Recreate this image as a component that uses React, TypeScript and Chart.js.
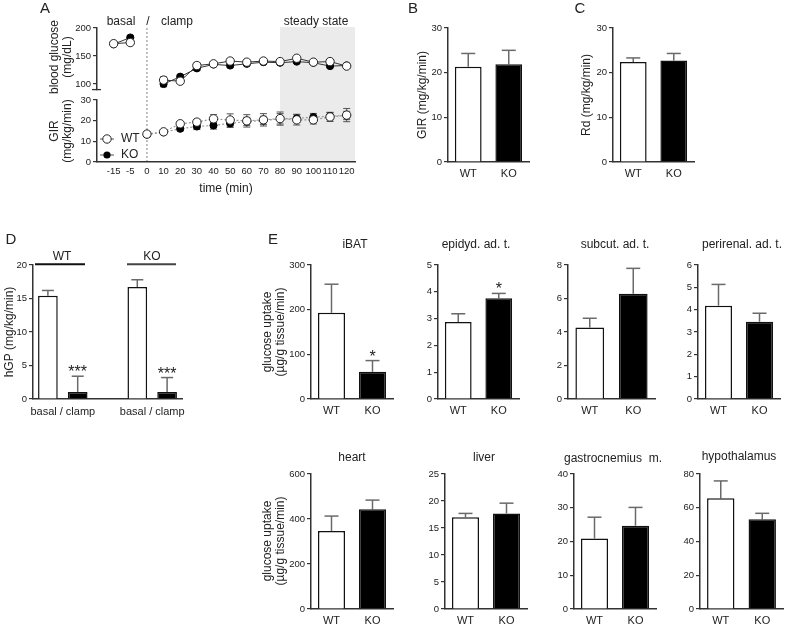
import React, { useEffect, useRef } from 'react';
import { Chart, registerables } from 'chart.js';
Chart.register(...registerables);

const FONT = '"Liberation Sans", Arial, Helvetica, sans-serif';
const INK = '#222';
const AXIS = '#333';
const ERR = '#6a6a6a';

// ---------- Panel A data ----------
const timeLabels = ['-15', '-5', '0', '10', '20', '30', '40', '50', '60', '70', '80', '90', '100', '110', '120'];
const glucoseWT = [172, 174, null, 107, 105, 133, 136, 141, 139, 141, 140, 146, 139, 140, 132];
const glucoseWTErr = [3, 4, null, 6, 3, 5, 4, 4, 4, 3, 3, 3, 3, 3, 3];
const glucoseKO = [171, 183, null, 100, 113, 128, 135, 133, 136, 139, 138, 140, 138, 132, 133];
const glucoseKOErr = [2, 3, null, 5, 3, 4, 3, 3, 3, 3, 3, 3, 3, 3, 3];
const girWT = [null, null, 13.5, 14.6, 18.5, 19.3, 20.9, 20.3, 19.9, 20.4, 21.0, 20.4, 20.4, 21.8, 22.7];
const girWTErr = [null, null, 1.2, 0.8, 1.0, 1.3, 2.0, 3.0, 3.0, 3.0, 3.2, 2.5, 2.0, 2.2, 3.2];
const girKO = [null, null, 13.3, 14.4, 16.1, 17.2, 17.7, 18.7, 19.6, 20.1, 20.9, 21.1, 21.7, 22.2, 22.5];
const girKOErr = [null, null, 1.0, 0.8, 1.0, 1.5, 1.8, 2.0, 2.0, 2.0, 2.5, 2.0, 1.8, 1.8, 2.0];
const steadyStateStart = '80';
const clampStart = '0';

// ---------- Panels B-E data ----------
const groups = ['WT', 'KO'];
const groupColors = ['#ffffff', '#000000'];
const girMean = [21.3, 21.9];
const girSem = [3.0, 3.1];
const rdMean = [22.4, 22.7];
const rdSem = [0.9, 1.6];
const hgpLabels = ['basal', 'clamp', '', 'basal', 'clamp'];
const hgpMean = [15.4, 1.05, null, 16.7, 1.05];
const hgpSem = [0.8, 2.35, null, 1.1, 2.15];
const hgpStars = [null, '***', null, null, '***'];
const iBATMean = [193, 61];
const iBATSem = [64, 25];
const epidydMean = [2.87, 3.76];
const epidydSem = [0.31, 0.18];
const subcutMean = [4.27, 6.28];
const subcutSem = [0.55, 1.52];
const perirenalMean = [4.18, 3.46];
const perirenalSem = [0.95, 0.38];
const heartMean = [347, 443];
const heartSem = [66, 41];
const liverMean = [17.0, 17.7];
const liverSem = [0.7, 1.9];
const gastrocMean = [20.9, 24.7];
const gastrocSem = [6.3, 5.4];
const hypothalMean = [65.6, 53.2];
const hypothalSem = [10.3, 3.5];

type Rect = { x: number; y: number; w: number; h: number };
type Num = number | null;

function txt(
  ctx: CanvasRenderingContext2D,
  s: string,
  x: number,
  y: number,
  size: number,
  o: { align?: CanvasTextAlign; baseline?: CanvasTextBaseline; rotate?: boolean; color?: string } = {}
) {
  ctx.save();
  ctx.font = `${size}px ${FONT}`;
  ctx.fillStyle = o.color ?? INK;
  ctx.textAlign = o.align ?? 'center';
  ctx.textBaseline = o.baseline ?? 'middle';
  ctx.translate(x, y);
  if (o.rotate) ctx.rotate(-Math.PI / 2);
  ctx.fillText(s, 0, 0);
  ctx.restore();
}

function line(ctx: CanvasRenderingContext2D, x1: number, y1: number, x2: number, y2: number, color: string, w: number, dash: number[] = []) {
  ctx.save();
  ctx.strokeStyle = color;
  ctx.lineWidth = w;
  ctx.setLineDash(dash);
  ctx.beginPath();
  ctx.moveTo(x1, y1);
  ctx.lineTo(x2, y2);
  ctx.stroke();
  ctx.restore();
}

function ChartBox({ rect, build }: { rect: Rect; build: () => any }) {
  const ref = useRef<HTMLCanvasElement>(null);
  useEffect(() => {
    const ch = new Chart(ref.current as HTMLCanvasElement, build());
    return () => ch.destroy();
  }, []);
  return (
    <canvas
      ref={ref}
      width={rect.w}
      height={rect.h}
      style={{ position: 'absolute', left: rect.x, top: rect.y, width: rect.w, height: rect.h }}
    />
  );
}

const yTickFont = { size: 9.5, family: FONT };

// ---------- Panel A ----------
const A_RECT: Rect = { x: 0, y: 0, w: 370, h: 200 };
const A_AXIS_X = 97;
const A_RIGHT = 355;

function timeTick(v: any) {
  return Number.isInteger(v) && v >= 0 && v < timeLabels.length ? timeLabels[v] : '';
}

function drawPointErrors(chart: any, errSets: Num[][], cap: number) {
  const ctx = chart.ctx;
  const ys = chart.scales.y;
  errSets.forEach((errs, di) => {
    const meta = chart.getDatasetMeta(di);
    const ds = chart.data.datasets[di];
    meta.data.forEach((pt: any, i: number) => {
      const v = ds.data[i].y;
      const e = errs[i];
      if (v == null || e == null) return;
      const y1 = ys.getPixelForValue(v + e);
      const y2 = ys.getPixelForValue(v - e);
      line(ctx, pt.x, y1, pt.x, y2, '#555', 1);
      line(ctx, pt.x - cap / 2, y1, pt.x + cap / 2, y1, '#555', 1);
      line(ctx, pt.x - cap / 2, y2, pt.x + cap / 2, y2, '#555', 1);
    });
  });
}

function buildATop() {
  return {
    type: 'line',
    data: {
      datasets: [
        {
          label: 'WT',
          data: glucoseWT.map((y, i) => ({ x: i, y })),
          borderColor: '#333',
          borderWidth: 1,
          pointRadius: 4.2,
          pointBackgroundColor: '#fff',
          pointBorderColor: '#222',
          pointBorderWidth: 1,
          spanGaps: false,
        },
        {
          label: 'KO',
          data: glucoseKO.map((y, i) => ({ x: i, y })),
          borderColor: '#333',
          borderWidth: 1,
          pointRadius: 3.6,
          pointBackgroundColor: '#000',
          pointBorderColor: '#000',
          pointBorderWidth: 1,
          spanGaps: false,
        },
      ],
    },
    options: {
      animation: false,
      responsive: false,
      events: [],
      layout: { padding: { left: 0, right: A_RECT.w - A_RIGHT, top: 28, bottom: A_RECT.h - 89.6 } },
      plugins: { legend: { display: false }, tooltip: { enabled: false } },
      scales: {
        x: { type: 'linear', min: -1, max: 14.5, display: false },
        y: {
          min: 90,
          max: 200,
          afterBuildTicks: (s: any) => {
            s.ticks = [100, 150, 200].map((value) => ({ value }));
          },
          ticks: { font: yTickFont, color: INK, padding: 2 },
          grid: { drawOnChartArea: false, drawTicks: true, tickLength: 4, color: AXIS, lineWidth: 1.2 },
          border: { display: true, color: AXIS, width: 1.5 },
          afterFit: (s: any) => {
            s.width = A_AXIS_X;
          },
        },
      },
    },
    plugins: [
      {
        id: 'aTopDeco',
        beforeDatasetsDraw(chart: any) {
          drawPointErrors(chart, [glucoseWTErr, glucoseKOErr], 7);
        },
        afterDraw(chart: any) {
          const ctx = chart.ctx;
          const ca = chart.chartArea;
          txt(ctx, 'A', 45, 9, 15);
          txt(ctx, 'basal', 121, 22, 12);
          txt(ctx, '/', 148, 22, 12);
          txt(ctx, 'clamp', 177, 22, 12);
          txt(ctx, 'steady state', 316, 22, 12);
          txt(ctx, 'blood glucose', 55, 57, 12, { rotate: true });
          txt(ctx, '(mg/dL)', 68, 57, 12, { rotate: true });
          line(ctx, ca.left - 5, ca.bottom, ca.left + 4, ca.bottom, AXIS, 1.3);
        },
      },
    ],
  };
}

function buildABottom() {
  return {
    type: 'line',
    data: {
      datasets: [
        {
          label: 'WT',
          data: girWT.map((y, i) => ({ x: i, y })),
          borderColor: '#9a9a9a',
          borderWidth: 1.2,
          borderDash: [2, 2],
          pointRadius: 4.2,
          pointBackgroundColor: '#fff',
          pointBorderColor: '#222',
          pointBorderWidth: 1,
          spanGaps: false,
        },
        {
          label: 'KO',
          data: girKO.map((y, i) => ({ x: i, y })),
          borderColor: '#9a9a9a',
          borderWidth: 1.2,
          borderDash: [2, 2],
          pointRadius: 3.6,
          pointBackgroundColor: '#000',
          pointBorderColor: '#000',
          pointBorderWidth: 1,
          spanGaps: false,
        },
      ],
    },
    options: {
      animation: false,
      responsive: false,
      events: [],
      layout: { padding: { left: 0, right: A_RECT.w - A_RIGHT, top: 100, bottom: 0 } },
      plugins: { legend: { display: false }, tooltip: { enabled: false } },
      scales: {
        x: {
          type: 'linear',
          min: -1,
          max: 14.5,
          afterBuildTicks: (s: any) => {
            s.ticks = timeLabels.map((_, i) => ({ value: i }));
          },
          ticks: { autoSkip: false, maxRotation: 0, minRotation: 0, font: yTickFont, color: INK, padding: 4, callback: timeTick },
          grid: { display: false, drawTicks: false },
          border: { display: true, color: AXIS, width: 1.5 },
          afterFit: (s: any) => {
            s.height = A_RECT.h - 162;
          },
        },
        y: {
          min: 0,
          max: 30,
          ticks: { stepSize: 10, font: yTickFont, color: INK, padding: 2 },
          grid: { drawOnChartArea: false, drawTicks: true, tickLength: 4, color: AXIS, lineWidth: 1.2 },
          border: { display: true, color: AXIS, width: 1.5 },
          afterFit: (s: any) => {
            s.width = A_AXIS_X;
          },
        },
      },
    },
    plugins: [
      {
        id: 'aBotDeco',
        beforeDraw(chart: any) {
          const ctx = chart.ctx;
          const ca = chart.chartArea;
          const xs = chart.scales.x;
          const gx = xs.getPixelForValue(timeLabels.indexOf(steadyStateStart));
          ctx.save();
          ctx.fillStyle = '#ebebeb';
          ctx.fillRect(gx, 27, ca.right - gx, ca.bottom - 27);
          ctx.restore();
          const zx = xs.getPixelForValue(timeLabels.indexOf(clampStart));
          line(ctx, zx, 28, zx, ca.bottom, '#9a9a9a', 1.2, [2, 2]);
        },
        beforeDatasetsDraw(chart: any) {
          drawPointErrors(chart, [girWTErr, girKOErr], 7);
        },
        afterDraw(chart: any) {
          const ctx = chart.ctx;
          const ca = chart.chartArea;
          txt(ctx, 'GIR', 55, 131, 12, { rotate: true });
          txt(ctx, '(mg/kg/min)', 68, 131, 12, { rotate: true });
          txt(ctx, 'time (min)', (ca.left + ca.right) / 2, 189, 12);
          // legend
          line(ctx, 100, 139, 114, 139, '#555', 1);
          ctx.save();
          ctx.beginPath();
          ctx.arc(107, 139, 4.2, 0, Math.PI * 2);
          ctx.fillStyle = '#fff';
          ctx.fill();
          ctx.strokeStyle = '#222';
          ctx.lineWidth = 1;
          ctx.stroke();
          ctx.restore();
          txt(ctx, 'WT', 121, 139, 12, { align: 'left' });
          line(ctx, 100, 155, 114, 155, '#555', 1);
          ctx.save();
          ctx.beginPath();
          ctx.arc(107, 155, 3.6, 0, Math.PI * 2);
          ctx.fillStyle = '#000';
          ctx.fill();
          ctx.restore();
          txt(ctx, 'KO', 121, 155, 12, { align: 'left' });
        },
      },
    ],
  };
}

// ---------- Bar panels ----------
interface BarSpec {
  key: string;
  rect: Rect;
  axisX: number;
  xEnd: number;
  yTop: number;
  yBottom: number;
  max: number;
  step: number;
  labels: string[];
  values: Num[];
  errs: Num[];
  colors: string[];
  tickLabels?: boolean;
  stars?: (string | null)[];
  title?: { text: string; x: number; y: number };
  yTitle?: { lines: string[]; xs: number[]; y: number };
  letter?: { text: string; x: number; y: number };
  cap?: number;
  extra?: (ctx: CanvasRenderingContext2D, chart: any) => void;
}

function buildBar(s: BarSpec) {
  return {
    type: 'bar',
    data: {
      labels: s.labels,
      datasets: [
        {
          data: s.values,
          backgroundColor: s.colors,
          borderColor: '#111',
          borderWidth: 1.5,
          barPercentage: 0.66,
          categoryPercentage: 1,
        },
      ],
    },
    options: {
      animation: false,
      responsive: false,
      events: [],
      layout: { padding: { left: 0, top: s.yTop - s.rect.y, right: s.rect.x + s.rect.w - s.xEnd, bottom: 0 } },
      plugins: { legend: { display: false }, tooltip: { enabled: false } },
      scales: {
        x: {
          grid: { display: false, drawTicks: false },
          border: { display: true, color: AXIS, width: 1.5 },
          ticks: { display: s.tickLabels !== false, font: { size: 11, family: FONT }, color: INK, padding: 5, maxRotation: 0, autoSkip: false },
          afterFit: (sc: any) => {
            sc.height = s.rect.y + s.rect.h - s.yBottom;
          },
        },
        y: {
          min: 0,
          max: s.max,
          ticks: { stepSize: s.step, font: yTickFont, color: INK, padding: 2 },
          grid: { drawOnChartArea: false, drawTicks: true, tickLength: 4, color: AXIS, lineWidth: 1.2 },
          border: { display: true, color: AXIS, width: 1.5 },
          afterFit: (sc: any) => {
            sc.width = s.axisX - s.rect.x;
          },
        },
      },
    },
    plugins: [
      {
        id: 'barDeco_' + s.key,
        beforeDatasetsDraw(chart: any) {
          const ctx = chart.ctx;
          const ys = chart.scales.y;
          const meta = chart.getDatasetMeta(0);
          const cap = s.cap ?? 14;
          meta.data.forEach((bar: any, i: number) => {
            const v = s.values[i];
            const e = s.errs[i];
            if (v == null || e == null) return;
            const y0 = ys.getPixelForValue(v);
            const y1 = ys.getPixelForValue(v + e);
            line(ctx, bar.x, y0, bar.x, y1, ERR, 1.5);
            line(ctx, bar.x - cap / 2, y1, bar.x + cap / 2, y1, ERR, 1.5);
          });
        },
        afterDraw(chart: any) {
          const ctx = chart.ctx;
          const ys = chart.scales.y;
          const meta = chart.getDatasetMeta(0);
          meta.data.forEach((bar: any, i: number) => {
            const st = s.stars?.[i];
            const v = s.values[i];
            const e = s.errs[i];
            if (!st || v == null || e == null) return;
            txt(ctx, st, bar.x, ys.getPixelForValue(v + e) + 1, 16, { baseline: 'alphabetic' });
          });
          ctx.save();
          ctx.translate(-s.rect.x, -s.rect.y);
          if (s.title) txt(ctx, s.title.text, s.title.x, s.title.y, 12);
          if (s.letter) txt(ctx, s.letter.text, s.letter.x, s.letter.y, 15);
          if (s.yTitle) {
            const yt = s.yTitle;
            yt.lines.forEach((l, k) => txt(ctx, l, yt.xs[k], yt.y, 12, { rotate: true }));
          }
          if (s.extra) s.extra(ctx, chart);
          ctx.restore();
        },
      },
    ],
  };
}

const E_YTITLE = ['glucose uptake', '(µg/g tissue/min)'];
const TOP_ROW = { yTop: 265, yBottom: 399 };
const BOT_ROW = { yTop: 474, yBottom: 609 };
const D_RECT: Rect = { x: 0, y: 230, w: 195, h: 196 };

const barSpecs: BarSpec[] = [
  {
    key: 'B',
    rect: { x: 400, y: 0, w: 140, h: 195 },
    axisX: 448, xEnd: 529, yTop: 28, yBottom: 162,
    max: 30, step: 10,
    labels: groups, values: girMean, errs: girSem, colors: groupColors,
    letter: { text: 'B', x: 413, y: 9 },
    yTitle: { lines: ['GIR (mg/kg/min)'], xs: [423], y: 95 },
  },
  {
    key: 'C',
    rect: { x: 560, y: 0, w: 145, h: 195 },
    axisX: 613, xEnd: 694, yTop: 28, yBottom: 162,
    max: 30, step: 10,
    labels: groups, values: rdMean, errs: rdSem, colors: groupColors,
    letter: { text: 'C', x: 580, y: 9 },
    yTitle: { lines: ['Rd (mg/kg/min)'], xs: [587], y: 95 },
  },
  {
    key: 'D',
    rect: D_RECT,
    axisX: 33, xEnd: 182, ...TOP_ROW,
    max: 20, step: 5,
    labels: hgpLabels, values: hgpMean, errs: hgpSem,
    colors: ['#ffffff', '#000000', '#ffffff', '#ffffff', '#000000'],
    tickLabels: false,
    stars: hgpStars,
    cap: 12,
    letter: { text: 'D', x: 11, y: 240 },
    yTitle: { lines: ['hGP (mg/kg/min)'], xs: [10], y: 332 },
    extra: (ctx, chart) => {
      const p = chart.getDatasetMeta(0).data.map((b: any) => b.x + D_RECT.x);
      txt(ctx, 'basal / clamp', (p[0] + p[1]) / 2, 412, 11);
      txt(ctx, 'basal / clamp', (p[3] + p[4]) / 2, 412, 11);
      line(ctx, 35, 264.3, 85, 264.3, '#111', 2);
      line(ctx, 127, 264.3, 176, 264.3, '#444', 2);
      txt(ctx, 'WT', 62, 257, 12);
      txt(ctx, 'KO', 152, 257, 12);
    },
  },
  {
    key: 'iBAT',
    rect: { x: 255, y: 230, w: 145, h: 196 },
    axisX: 311, xEnd: 393, ...TOP_ROW,
    max: 300, step: 100,
    labels: groups, values: iBATMean, errs: iBATSem, colors: groupColors,
    stars: [null, '*'],
    letter: { text: 'E', x: 273, y: 240 },
    title: { text: 'iBAT', x: 355, y: 245 },
    yTitle: { lines: E_YTITLE, xs: [268, 281], y: 332 },
  },
  {
    key: 'epidyd',
    rect: { x: 405, y: 232, w: 120, h: 194 },
    axisX: 438, xEnd: 519, ...TOP_ROW,
    max: 5, step: 1,
    labels: groups, values: epidydMean, errs: epidydSem, colors: groupColors,
    stars: [null, '*'],
    title: { text: 'epidyd. ad. t.', x: 476, y: 245 },
  },
  {
    key: 'subcut',
    rect: { x: 540, y: 232, w: 122, h: 194 },
    axisX: 568, xEnd: 655, ...TOP_ROW,
    max: 8, step: 2,
    labels: groups, values: subcutMean, errs: subcutSem, colors: groupColors,
    title: { text: 'subcut. ad. t.', x: 615, y: 245 },
  },
  {
    key: 'perirenal',
    rect: { x: 668, y: 232, w: 119, h: 194 },
    axisX: 698, xEnd: 780, ...TOP_ROW,
    max: 6, step: 1,
    labels: groups, values: perirenalMean, errs: perirenalSem, colors: groupColors,
    title: { text: 'perirenal. ad. t.', x: 742, y: 245 },
  },
  {
    key: 'heart',
    rect: { x: 255, y: 445, w: 145, h: 181 },
    axisX: 311, xEnd: 393, ...BOT_ROW,
    max: 600, step: 200,
    labels: groups, values: heartMean, errs: heartSem, colors: groupColors,
    title: { text: 'heart', x: 352, y: 458 },
    yTitle: { lines: E_YTITLE, xs: [268, 281], y: 541 },
  },
  {
    key: 'liver',
    rect: { x: 410, y: 445, w: 122, h: 181 },
    axisX: 445, xEnd: 527, ...BOT_ROW,
    max: 25, step: 5,
    labels: groups, values: liverMean, errs: liverSem, colors: groupColors,
    title: { text: 'liver', x: 484, y: 458 },
  },
  {
    key: 'gastroc',
    rect: { x: 540, y: 445, w: 122, h: 181 },
    axisX: 574, xEnd: 656, ...BOT_ROW,
    max: 40, step: 10,
    labels: groups, values: gastrocMean, errs: gastrocSem, colors: groupColors,
    title: { text: 'gastrocnemius  m.', x: 613, y: 459 },
  },
  {
    key: 'hypothal',
    rect: { x: 668, y: 445, w: 119, h: 181 },
    axisX: 700, xEnd: 783, ...BOT_ROW,
    max: 80, step: 20,
    labels: groups, values: hypothalMean, errs: hypothalSem, colors: groupColors,
    title: { text: 'hypothalamus', x: 739, y: 457 },
  },
];

export default function App() {
  return (
    <div
      style={{
        position: 'absolute',
        left: 0,
        top: 0,
        width: 787,
        height: 626,
        overflow: 'hidden',
        background: '#fff',
      }}
    >
      <ChartBox rect={A_RECT} build={buildABottom} />
      <ChartBox rect={A_RECT} build={buildATop} />
      {barSpecs.map((s) => (
        <ChartBox key={s.key} rect={s.rect} build={() => buildBar(s)} />
      ))}
    </div>
  );
}
